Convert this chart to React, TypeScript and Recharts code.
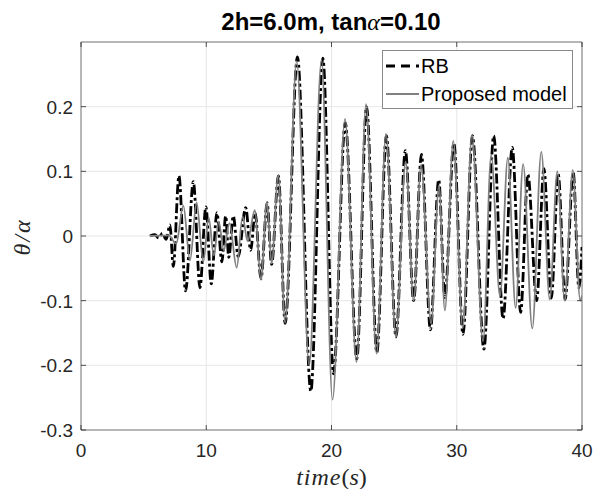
import React from 'react';
import { LineChart, Line, XAxis, YAxis, CartesianGrid, Legend, ReferenceArea } from 'recharts';

// ---- data ----
const rbTime = [5.5, 5.9, 6.2, 6.5, 6.8, 7.1, 7.37, 7.82, 8.35, 8.97, 9.5, 9.97, 10.4, 10.85, 11.25, 11.55, 11.8, 12.16, 12.55, 13.15, 13.55, 13.9, 14.37, 14.86, 15.22, 15.76, 16.3, 17.28, 18.35, 19.31, 20.16, 21.1, 22.02, 22.8, 23.62, 24.38, 25.15, 25.9, 26.56, 27.18, 27.9, 28.56, 29.05, 29.77, 30.5, 31.25, 32.17, 32.95, 33.7, 34.43, 35.1, 35.68, 36.38, 36.96, 37.55, 38.1, 38.65, 39.3, 39.75, 40];
const rbValue = [0, 0.002, -0.003, 0.004, -0.005, 0.017, -0.047, 0.093, -0.085, 0.084, -0.08, 0.045, -0.074, 0.036, -0.04, 0.031, -0.033, 0.031, -0.032, 0.044, -0.022, 0.036, -0.066, 0.051, -0.044, 0.093, -0.135, 0.277, -0.24, 0.275, -0.213, 0.175, -0.19, 0.2, -0.18, 0.155, -0.156, 0.132, -0.1, 0.126, -0.145, 0.087, -0.095, 0.143, -0.152, 0.155, -0.175, 0.155, -0.128, 0.137, -0.118, 0.095, -0.1, 0.104, -0.096, 0.096, -0.098, 0.098, -0.08, -0.017];

const pmTime = [5.5, 7.0, 7.6, 8.17, 8.7, 9.23, 9.76, 10.2, 10.6, 11.0, 11.4, 11.85, 12.43, 12.9, 13.3, 13.88, 14.37, 14.85, 15.22, 15.75, 16.3, 17.22, 18.22, 19.2, 20.08, 21.08, 22.0, 22.76, 23.6, 24.35, 25.14, 25.92, 26.56, 27.15, 27.95, 28.58, 29.05, 29.72, 30.48, 31.22, 32.1, 32.75, 33.45, 34.08, 34.7, 35.3, 36.03, 36.75, 37.42, 38.03, 38.62, 39.26, 39.86, 40];
const pmValue = [0, 0.001, -0.012, 0.047, -0.038, 0.052, -0.04, 0.028, -0.03, 0.022, -0.022, 0.02, -0.049, 0.03, -0.008, 0.04, -0.068, 0.053, -0.042, 0.094, -0.134, 0.27, -0.2, 0.272, -0.253, 0.181, -0.195, 0.204, -0.182, 0.158, -0.156, 0.115, -0.1, 0.11, -0.135, 0.078, -0.115, 0.147, -0.142, 0.156, -0.163, 0.125, -0.093, 0.121, -0.111, 0.111, -0.143, 0.13, -0.098, 0.1, -0.1, 0.102, -0.1, -0.092];

const seriesNames = ['RB', 'Proposed model'];
const xTicks = [0, 10, 20, 30, 40];
const yTicks = [-0.3, -0.2, -0.1, 0, 0.1, 0.2];
const xDomain = [0, 40];
const yDomain = [-0.3, 0.3];

const rbData = rbTime.map((t, i) => ({ t, v: rbValue[i] }));
const pmData = pmTime.map((t, i) => ({ t, v: pmValue[i] }));

// ---- layout / style ----
const W = 590;
const H = 481;
const PLOT_W = 501;
const PLOT_H = 388;
const SANS = '"Liberation Sans", Arial, Helvetica, sans-serif';
const SERIF = '"Liberation Serif", "Times New Roman", serif';
const TXT = '#262626';

const XTick = (props: any) => {
  const { x, y, payload } = props;
  return (
    <g>
      <line x1={x} x2={x} y1={y} y2={y - 5} stroke={TXT} strokeWidth={0.8} />
      <line x1={x} x2={x} y1={y - PLOT_H} y2={y - PLOT_H + 5} stroke={TXT} strokeWidth={0.8} />
      <text x={x} y={y + 27} textAnchor="middle" fontSize={19} fill={TXT} fontFamily={SANS}>
        {String(payload.value)}
      </text>
    </g>
  );
};

const YTick = (props: any) => {
  const { x, y, payload } = props;
  return (
    <g>
      <line x1={x} x2={x + 5} y1={y} y2={y} stroke={TXT} strokeWidth={0.8} />
      <line x1={x + PLOT_W} x2={x + PLOT_W - 5} y1={y} y2={y} stroke={TXT} strokeWidth={0.8} />
      <text x={x - 8} y={y + 7} textAnchor="end" fontSize={19} fill={TXT} fontFamily={SANS}>
        {String(payload.value)}
      </text>
    </g>
  );
};

const LegendBox = (props: any) => {
  const items = [...(props.payload || [])].sort(
    (a: any, b: any) => seriesNames.indexOf(a.value) - seriesNames.indexOf(b.value)
  );
  return (
    <div
      style={{
        width: 189,
        height: 57,
        border: '1px solid #8a8a8a',
        background: '#fff',
        boxSizing: 'content-box',
        fontFamily: SANS,
        fontSize: 20,
        color: '#000',
      }}
    >
      {items.map((entry: any, i: number) => {
        const dashed = entry.value === seriesNames[0];
        return (
          <div key={i} style={{ display: 'flex', alignItems: 'center', height: 28, marginTop: i === 0 ? 1 : 0 }}>
            <svg width={38} height={28} style={{ display: 'block' }}>
              <line
                x1={3}
                x2={36}
                y1={14}
                y2={14}
                stroke={dashed ? '#000' : '#808080'}
                strokeWidth={dashed ? 2.8 : 1.8}
                strokeDasharray={dashed ? '9 6' : undefined}
              />
            </svg>
            <span style={{ lineHeight: '28px', whiteSpace: 'nowrap' }}>{entry.value}</span>
          </div>
        );
      })}
    </div>
  );
};

const XLabel = (props: any) => {
  const { viewBox } = props;
  const cx = viewBox.x + viewBox.width / 2;
  return (
    <text x={cx} y={viewBox.y + 55} textAnchor="middle" fontSize={24} fill={TXT} fontFamily={SERIF}>
      <tspan fontStyle="italic" letterSpacing={1}>time</tspan>
      <tspan>(</tspan>
      <tspan fontStyle="italic">s</tspan>
      <tspan>)</tspan>
    </text>
  );
};

const YLabel = () => {
  const cx = 14;
  const cy = 229;
  return (
    <text
      x={cx}
      y={cy}
      transform={`rotate(-90 ${cx} ${cy})`}
      textAnchor="middle"
      dominantBaseline="central"
      fontSize={24}
      fill={TXT}
      fontFamily={SERIF}
      fontStyle="italic"
      letterSpacing={2}
    >
      θ/α
    </text>
  );
};

export default function App() {
  return (
    <div style={{ position: 'fixed', left: 8, top: 8, width: W, height: H, background: '#fff' }}>
      <div
        style={{
          position: 'absolute',
          left: 123,
          width: 400,
          top: 0,
          textAlign: 'center',
          fontFamily: SANS,
          fontWeight: 'bold',
          fontSize: 24,
          lineHeight: '27px',
          color: '#000',
          zIndex: 2,
        }}
      >
        2h=6.0m, tan<span style={{ fontFamily: SERIF, fontStyle: 'italic', fontWeight: 'normal' }}>α</span>=0.10
      </div>
      <LineChart width={W} height={H} margin={{ top: 34, right: 16, bottom: 0, left: 0 }}>
        <CartesianGrid stroke="#e6e6e6" strokeWidth={1} />
        <XAxis
          type="number"
          dataKey="t"
          domain={xDomain}
          ticks={xTicks}
          interval={0}
          allowDataOverflow
          height={59}
          axisLine={false}
          tickLine={false}
          tickSize={0}
          tickMargin={0}
          tick={<XTick />}
          label={<XLabel />}
        />
        <YAxis
          type="number"
          dataKey="v"
          domain={yDomain}
          ticks={yTicks}
          interval={0}
          allowDataOverflow
          width={73}
          axisLine={false}
          tickLine={false}
          tickSize={0}
          tickMargin={0}
          tick={<YTick />}
          label={<YLabel />}
        />
        <ReferenceArea x1={0} x2={40} y1={-0.3} y2={0.3} fill="none" stroke="#7a7a7a" strokeWidth={1} ifOverflow="visible" />
        <Line
          data={rbData}
          dataKey="v"
          name={seriesNames[0]}
          type="monotone"
          stroke="#000"
          strokeWidth={2.8}
          strokeDasharray="10 3 3 3"
          dot={false}
          activeDot={false}
          isAnimationActive={false}
        />
        <Line
          data={pmData}
          dataKey="v"
          name={seriesNames[1]}
          type="monotone"
          stroke="#808080"
          strokeWidth={1.8}
          dot={false}
          activeDot={false}
          isAnimationActive={false}
        />
        <Legend
          layout="horizontal"
          verticalAlign="middle"
          align="center"
          content={<LegendBox />}
          wrapperStyle={{ position: 'absolute', left: 374, top: 42, width: 'auto' }}
        />
      </LineChart>
    </div>
  );
}
